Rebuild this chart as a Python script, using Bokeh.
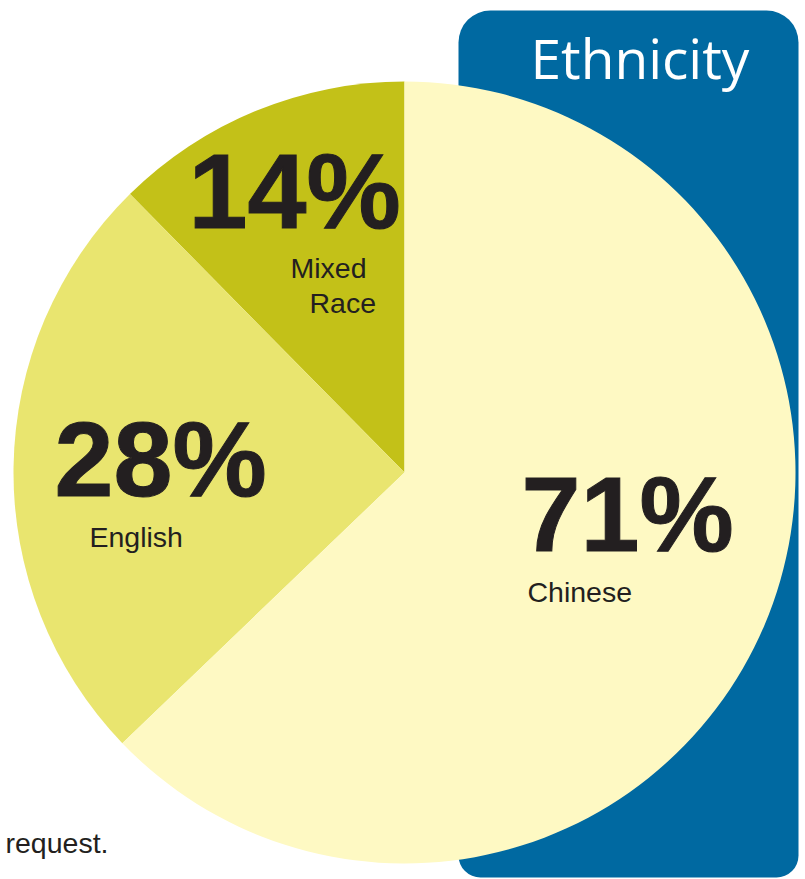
import math
from bokeh.plotting import figure
from bokeh.models import Range1d, BoxAnnotation, ColumnDataSource
from bokeh.core.properties import value
from bokeh.embed import file_html
from bokeh.resources import INLINE

# ---- data ----
categories = ["Mixed Race", "English", "Chinese"]
values = [14, 28, 71]
pct_labels = ["14%", "28%", "71%"]
colors = ["#C3C118", "#E9E56F", "#FEF9C3"]
title = "Ethnicity"
footnote = "request."

W, H = 805, 879
p = figure(width=W, height=H, output_backend="svg", toolbar_location=None,
           x_range=Range1d(0, W), y_range=Range1d(0, H), min_border=0)
p.axis.visible = False
p.grid.visible = False
p.outline_line_color = None
p.background_fill_color = "white"
p.border_fill_color = "white"

def Y(py, size=0):
    # baseline position in pixels -> data y (compensating renderer baseline shift)
    return H - (py - 0.39 * size)

# blue panel
panel = BoxAnnotation(left=458, right=798, top=H - 10, bottom=H - 877,
                      fill_color="#0069A1", fill_alpha=1.0, line_color=None,
                      level="underlay",
                      border_radius=dict(top_left=32, top_right=32,
                                         bottom_left=22, bottom_right=22))
p.add_layout(panel)

# pie
total = sum(values)
starts, ends = [], []
a = math.pi / 2
for v in values:
    starts.append(a)
    a += v / total * 2 * math.pi
    ends.append(a)
src = ColumnDataSource(dict(cat=categories, start=starts, end=ends, color=colors))
p.wedge(x=404, y=H - 472, radius=391, start_angle="start", end_angle="end",
        color="color", line_color=None, source=src)

dark = "#231F20"
# percent labels
PS = 106
pct_x = [188, 54, 521]
pct_y = [232, 500, 555]
p.text(x=pct_x, y=[Y(v, PS) for v in pct_y], text=pct_labels,
       text_font=value("Liberation Sans"), text_font_style="bold",
       text_font_size=f"{PS}px", text_color=dark, text_outline_color=dark,
       text_align="left", text_baseline="alphabetic")

# category labels
LS = 28.5
cat_lines = ["Mixed", "Race", "English", "Chinese"]
cat_x = [290, 309, 89, 527]
cat_y = [279, 314, 548, 603]
p.text(x=cat_x, y=[Y(v, LS) for v in cat_y], text=cat_lines,
       text_font=value("Liberation Sans"), text_font_size=f"{LS}px",
       text_color=dark, text_align="left", text_baseline="alphabetic")

# title
TS = 55
p.text(x=[530], y=[Y(78, TS)], text=[title], text_font=value("Open Sans"),
       text_font_size=f"{TS}px", text_color="white",
       text_align="left", text_baseline="alphabetic")

# footnote
p.text(x=[5], y=[Y(854, LS)], text=[footnote], text_font=value("Liberation Sans"),
       text_font_size=f"{LS}px", text_color=dark,
       text_align="left", text_baseline="alphabetic")

open("out.html", "w").write(file_html(p, INLINE))
